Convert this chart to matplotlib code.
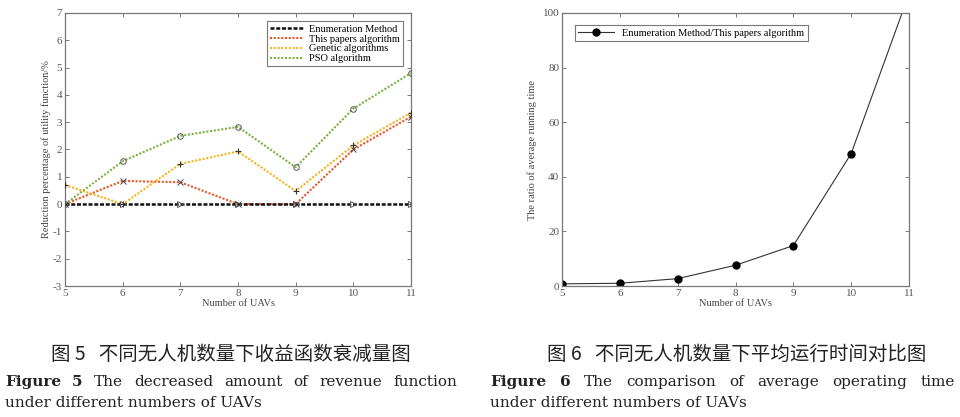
import matplotlib
matplotlib.use("Agg")
import matplotlib.pyplot as plt

plt.rcParams['axes.unicode_minus'] = False

uavs = [5, 6, 7, 8, 9, 10, 11]
enumeration = [0, 0, 0, 0, 0, 0, 0]
this_paper = [0, 0.85, 0.8, 0, 0, 2.0, 3.2]
genetic = [0.7, 0, 1.47, 1.93, 0.48, 2.15, 3.35]
pso = [0, 1.57, 2.5, 2.83, 1.35, 3.5, 4.8]
ratio = [0.8, 1.0, 2.7, 7.6, 14.8, 48.5, 107]

left_yticks = [-3, -2, -1, 0, 1, 2, 3, 4, 5, 6, 7]
right_yticks = [0, 20, 40, 60, 80, 100]

serif = ['Liberation Serif', 'DejaVu Serif']
cap_serif = ['DejaVu Serif']
cjk = ['Noto Sans CJK SC', 'DejaVu Sans']

fig = plt.figure(figsize=(9.6, 4.17), dpi=100)
W, H = 960, 417

def add_ax(x0, x1, y0, y1):
    return fig.add_axes([x0 / W, 1 - y1 / H, (x1 - x0) / W, (y1 - y0) / H])

frame_col = '#777777'
tick_col = '#555555'

def style(ax):
    for s in ax.spines.values():
        s.set_color(frame_col)
        s.set_linewidth(0.9)
    ax.tick_params(direction='in', length=3, width=0.7, color=frame_col,
                   top=True, right=True, labelsize=8, labelcolor=tick_col, pad=2)
    for lab in ax.get_xticklabels() + ax.get_yticklabels():
        lab.set_family(serif)

dot = (0, (1.0, 0.8))
# Left chart
ax1 = add_ax(65, 411, 13, 286)
ax1.plot(uavs, this_paper, ls=dot, lw=1.5, color='#e8572a', marker='x', ms=4,
         mec='#444444', mew=0.7, label='This papers algorithm', zorder=3)
ax1.plot(uavs, genetic, ls=dot, lw=1.5, color='#f5b21d', marker='+', ms=5,
         mec='#333333', mew=0.8, label='Genetic algorithms', zorder=3)
ax1.plot(uavs, pso, ls=dot, lw=1.5, color='#7cb342', marker='o', ms=4,
         mfc='none', mec='#555555', mew=0.7, label='PSO algorithm', zorder=3)
ax1.plot(uavs, enumeration, ls=(0, (1.6, 0.7)), lw=1.8, color='#111111', marker='>', ms=4,
         mfc='none', mec='#555555', mew=0.7, label='Enumeration Method', zorder=4)
ax1.set_xlim(5, 11)
ax1.set_ylim(-3, 7)
ax1.set_xticks(uavs)
ax1.set_yticks(left_yticks)
style(ax1)
ax1.set_xlabel('Number of UAVs', fontsize=7.5, family=serif, color='#444444', labelpad=1)
ax1.set_ylabel('Reduction percentage of utility function/%', fontsize=7.5,
               family=serif, color='#444444', labelpad=1)
h, l = ax1.get_legend_handles_labels()
order = [3, 0, 1, 2]
leg = ax1.legend([h[i] for i in order], [l[i] for i in order], loc='upper right',
                 prop={'family': serif, 'size': 7.5}, frameon=True, fancybox=False,
                 edgecolor='#555555', handlelength=3.2, borderpad=0.3,
                 labelspacing=0.05, handletextpad=0.5, borderaxespad=0.8)
leg.get_frame().set_linewidth(0.8)
for lh in leg.legend_handles:
    lh.set_marker('')

# Right chart
ax2 = add_ax(562, 909, 13, 286)
ax2.plot(uavs, ratio, ls='-', lw=0.8, color='#333333', marker='o', ms=5,
         mfc='black', mec='black', label='Enumeration Method/This papers algorithm',
         clip_on=True)
ax2.set_xlim(5, 11)
ax2.set_ylim(0, 100)
ax2.set_xticks(uavs)
ax2.set_yticks(right_yticks)
style(ax2)
ax2.set_xlabel('Number of UAVs', fontsize=7.5, family=serif, color='#444444', labelpad=1)
ax2.set_ylabel('The ratio of average running time', fontsize=7.5,
               family=serif, color='#444444', labelpad=4)
leg2 = ax2.legend(loc='upper left', prop={'family': serif, 'size': 7.5}, frameon=True,
                  fancybox=False, edgecolor='#555555', handlelength=3.5,
                  borderpad=0.3, borderaxespad=1.2)
leg2.get_frame().set_linewidth(0.8)

# Captions
fig.text(231 / W, 1 - 354 / H, '图 5   不同无人机数量下收益函数衰减量图', ha='center', va='center',
         fontsize=14, family=cjk, color='#222222')
fig.text(737 / W, 1 - 354 / H, '图 6   不同无人机数量下平均运行时间对比图', ha='center', va='center',
         fontsize=14, family=cjk, color='#222222')

renderer = fig.canvas.get_renderer()
cap_size = 11

def justify(words, x0, x1, y, bold_first=0):
    texts = []
    for i, w in enumerate(words):
        t = fig.text(0, 1 - y / H, w, ha='left', va='center', fontsize=cap_size,
                     family=cap_serif, color='#222222',
                     weight='bold' if i < bold_first else 'normal')
        texts.append(t)
    widths = [t.get_window_extent(renderer).width for t in texts]
    gap = (x1 - x0 - sum(widths)) / (len(words) - 1)
    x = x0
    for t, wd in zip(texts, widths):
        t.set_x(x / W)
        x += wd + gap

def plain(s, x0, y):
    fig.text(x0 / W, 1 - y / H, s, ha='left', va='center', fontsize=cap_size,
             family=cap_serif, color='#222222')

justify(['Figure', '5', 'The', 'decreased', 'amount', 'of', 'revenue', 'function'],
        5, 457, 382, bold_first=2)
plain('under different numbers of UAVs', 5, 403)
justify(['Figure', '6', 'The', 'comparison', 'of', 'average', 'operating', 'time'],
        490, 955, 382, bold_first=2)
plain('under different numbers of UAVs', 490, 403)

fig.savefig('out.png', dpi=100)
